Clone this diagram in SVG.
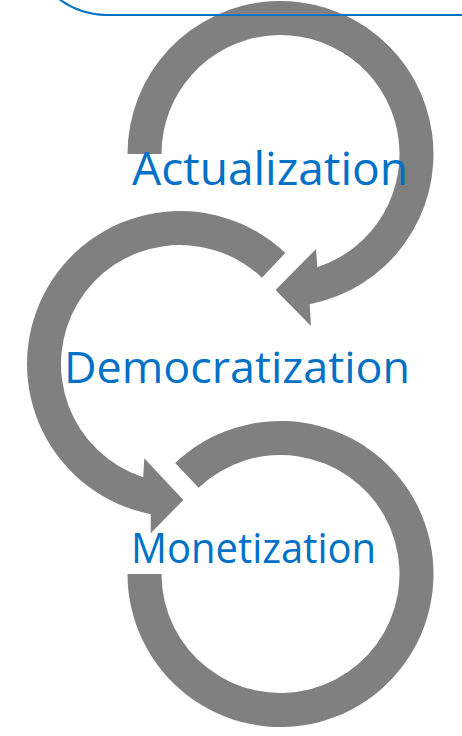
<svg xmlns="http://www.w3.org/2000/svg" width="462" height="736" viewBox="0 0 462 736">
  <style>
    .arrow { fill: #808080; stroke: none; }
    .label { fill: #0071C5; font-family: "Open Sans", "Noto Sans", "Liberation Sans", sans-serif; }
    .frame { fill: none; stroke: #0071C5; stroke-width: 2; }
  </style>
  <rect width="462" height="736" fill="#FFFFFF"/>
  <g id="node-actualization">
    <path class="arrow" d="M 127.5 154 A 153 153 0 1 1 309.7 304.2 L 311 326 L 275.5 290 L 316 249 L 317.3 267.2 A 119 119 0 1 0 161.5 154 Z"/>
  </g>
  <g id="node-democratization">
    <path class="arrow" d="M 285.3 253 A 153 153 0 1 0 150.8 514.2 L 150.7 533.3 L 183.3 500 L 144.3 458.3 L 143.2 477.2 A 119 119 0 1 1 261.9 277.7 Z"/>
  </g>
  <g id="node-monetization">
    <path class="arrow" d="M 175.2 463 A 153 153 0 1 1 127.5 574 L 161.5 574 A 119 119 0 1 0 198.6 487.7 Z"/>
  </g>
  <g id="frame">
    <path class="frame" d="M 59 -1 A 81 81 0 0 0 106 15 H 463"/>
  </g>
  <g id="labels">
    <text class="label" x="132" y="185" font-size="45" textLength="276" lengthAdjust="spacingAndGlyphs">Actualization</text>
    <text class="label" x="64" y="383" font-size="44" textLength="346" lengthAdjust="spacingAndGlyphs">Democratization</text>
    <text class="label" x="131" y="563" font-size="42" textLength="245" lengthAdjust="spacingAndGlyphs">Monetization</text>
  </g>
  <g id="connectors"></g>
</svg>
